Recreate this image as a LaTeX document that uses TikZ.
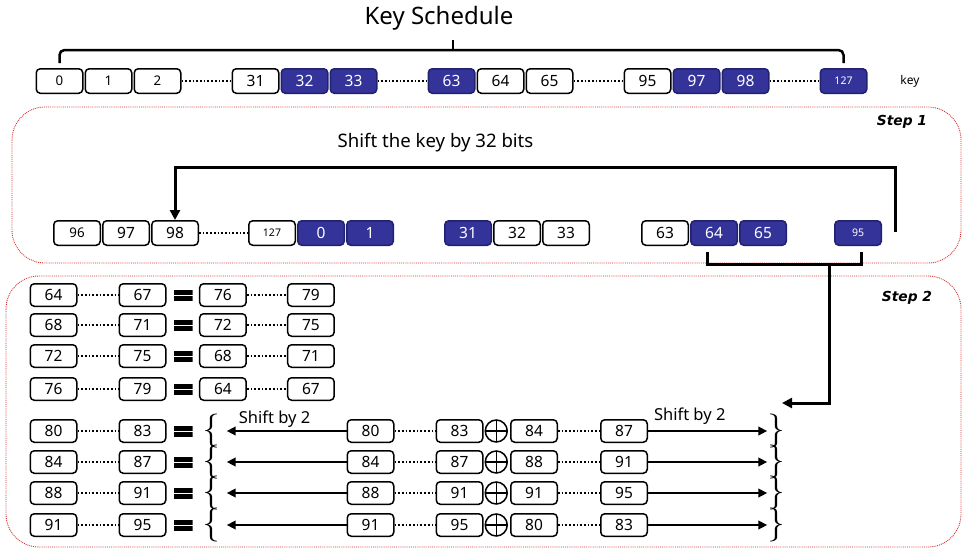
\documentclass[tikz,border=0pt]{standalone}
\usepackage{fontspec}
\setsansfont{Noto Sans}
\newfontfamily\stepfont{DejaVu Sans}
\usepackage{tikz}
\usetikzlibrary{
    positioning,
    arrows.meta
}
\definecolor{KeyBlue}{RGB}{51,51,153}
\definecolor{KeyEdge}{RGB}{33,33,110}
\definecolor{FrameRed}{RGB}{214,48,48}

\begin{document}
\begin{tikzpicture}[
    x=1pt, y=-1pt,
    font=\sffamily,
    bit/.style={rectangle, draw, line width=1.5pt, rounded corners=4pt, minimum width=46.5pt, minimum height=24.5pt, inner sep=0pt, font=\sffamily\fontsize{15.5}{17}\selectfont},
    hot/.style={bit, fill=KeyBlue, draw=KeyEdge, text=white},
    sm/.style={font=\sffamily\fontsize{13.3}{15}\selectfont},
    xs/.style={font=\sffamily\fontsize{10.5}{12}\selectfont},
    cell/.style={bit, minimum height=22.5pt},
    gap/.style={dotted, line width=1.7pt},
    stepframe/.style={draw=FrameRed, densely dotted, line width=0.9pt, rounded corners=33pt},
    thk/.style={line width=3pt},
    brk/.style={line width=2.5pt, rounded corners=5pt},
    arr/.style={line width=2.8pt, -{Triangle[length=9pt, width=8.5pt]}},
    eqs/.style={fill=white, minimum width=19pt, minimum height=11pt, inner sep=0pt,
        path picture={\fill[black] (path picture bounding box.north west) rectangle ([yshift=-5pt]path picture bounding box.north east);
                      \fill[black] (path picture bounding box.south west) rectangle ([yshift=5pt]path picture bounding box.south east);}},
    xorc/.style={circle, draw, line width=1.5pt, minimum size=22pt, inner sep=0pt,
        path picture={\draw[line width=1.5pt] (path picture bounding box.north) -- (path picture bounding box.south)
                      (path picture bounding box.west) -- (path picture bounding box.east);}},
    lbl/.style={font=\sffamily\fontsize{16.5}{18}\selectfont, inner sep=2pt},
    stp/.style={font=\stepfont\bfseries\itshape\fontsize{13.8}{16}\selectfont},
    brc/.style={font=\rmfamily\fontsize{34}{34}\selectfont, inner sep=0pt},
]
\useasboundingbox (0,0) rectangle (962,549);

% frames
\draw[stepframe] (12,107) rectangle (961,263);
\draw[stepframe] (6,276) rectangle (961,547);

% key
\node[font=\sffamily\fontsize{24}{26}\selectfont] (title) at (439,18) {Key Schedule};
\node[bit, sm] (k0) at (59.5,81) {0};
\node[bit, sm, right=1pt of k0] (k1) {1};
\node[bit, sm, right=1pt of k1] (k2) {2};
\node[bit, right=50pt of k2] (k31) {31};
\node[hot, right=1pt of k31] (k32) {32};
\node[hot, right=1pt of k32] (k33) {33};
\node[hot, right=50pt of k33] (k63) {63};
\node[bit, right=1pt of k63] (k64) {64};
\node[bit, right=1pt of k64] (k65) {65};
\node[bit, right=50pt of k65] (k95) {95};
\node[hot, right=1pt of k95] (k97) {97};
\node[hot, right=1pt of k97] (k98) {98};
\node[hot, xs, right=50pt of k98] (k127) {127};
\node[font=\sffamily\fontsize{12}{14}\selectfont] (klbl) at (910,81) {key};

\draw[gap] (k2) -- (k31);
\draw[gap] (k33) -- (k63);
\draw[gap] (k65) -- (k95);
\draw[gap] (k98) -- (k127);

\coordinate (kt) at (453,50);
\draw[brk] ([yshift=5pt]k0.north) -- ++(0,-13) -| ([yshift=5pt]k127.north);
\draw[brk] (kt) -- ++(0,-10);

% step 1
\node[stp] (st1) at (902,122) {Step 1};
\node[font=\sffamily\fontsize{18.6}{21}\selectfont] (shtxt) at (435.5,143) {Shift the key by 32 bits};

\node[bit, sm] (s96) at (77,233) {96};
\node[bit, right=1pt of s96] (s97) {97};
\node[bit, right=1pt of s97] (s98) {98};
\node[bit, xs, right=49pt of s98] (s127) {127};
\node[hot, right=1pt of s127] (s0) {0};
\node[hot, right=1pt of s0] (s1) {1};
\node[hot, right=50pt of s1] (s31) {31};
\node[bit, right=1pt of s31] (s32) {32};
\node[bit, right=1pt of s32] (s33) {33};
\node[bit, right=51pt of s33] (s63) {63};
\node[hot, right=1pt of s63] (s64) {64};
\node[hot, right=1pt of s64] (s65) {65};
\node[hot, xs, right=47pt of s65] (s95) {95};

\draw[gap] (s98) -- (s127);

\coordinate (sa) at (895,232);
\draw[thk, -{Triangle[length=10pt, width=10pt]}] (sa) -- ++(0,-65) -| (s98.north);

\coordinate (bm) at (829,265);
\coordinate (bt) at (782,403);
\draw[thk] ([xshift=-7pt, yshift=-6pt]s64.south) -- ++(0,12) -| ([xshift=3pt, yshift=-6pt]s95.south);
\draw[thk, -{Triangle[length=10pt, width=10pt]}] (bm) |- (bt);

% step 2
\node[stp] (st2) at (907,298) {Step 2};

\node[cell] (a1) at (53.5,295) {64};
\node[cell, right=41pt of a1] (b1) {67};
\node[eqs, right=7pt of b1] (q1) {};
\node[cell, right=6pt of q1] (c1) {76};
\node[cell, right=40pt of c1] (d1) {79};

\node[cell] (a2) at (53.5,325) {68};
\node[cell, right=41pt of a2] (b2) {71};
\node[eqs, right=7pt of b2] (q2) {};
\node[cell, right=6pt of q2] (c2) {72};
\node[cell, right=40pt of c2] (d2) {75};

\node[cell] (a3) at (53.5,356) {72};
\node[cell, right=41pt of a3] (b3) {75};
\node[eqs, right=7pt of b3] (q3) {};
\node[cell, right=6pt of q3] (c3) {68};
\node[cell, right=40pt of c3] (d3) {71};

\node[cell] (a4) at (53.5,389) {76};
\node[cell, right=41pt of a4] (b4) {79};
\node[eqs, right=7pt of b4] (q4) {};
\node[cell, right=6pt of q4] (c4) {64};
\node[cell, right=40pt of c4] (d4) {67};

\draw[gap] (a1) -- (b1); \draw[gap] (c1) -- (d1);
\draw[gap] (a2) -- (b2); \draw[gap] (c2) -- (d2);
\draw[gap] (a3) -- (b3); \draw[gap] (c3) -- (d3);
\draw[gap] (a4) -- (b4); \draw[gap] (c4) -- (d4);

% step 2, shifted rows
\node[cell] (a5) at (53.5,431) {80};
\node[cell, right=41pt of a5] (b5) {83};
\node[eqs, right=7pt of b5] (q5) {};
\node[brc] (l5) at (211,431) {\{};
\node[cell] (e5) at (370.5,431) {80};
\node[cell, right=41pt of e5] (f5) {83};
\node[xorc, right=1pt of f5] (x5) {};
\node[cell, right=2pt of x5] (g5) {84};
\node[cell, right=42pt of g5] (h5) {87};
\node[brc] (r5) at (776,431) {\}};

\node[cell] (a6) at (53.5,462) {84};
\node[cell, right=41pt of a6] (b6) {87};
\node[eqs, right=7pt of b6] (q6) {};
\node[brc] (l6) at (211,462) {\{};
\node[cell] (e6) at (370.5,462) {84};
\node[cell, right=41pt of e6] (f6) {87};
\node[xorc, right=1pt of f6] (x6) {};
\node[cell, right=2pt of x6] (g6) {88};
\node[cell, right=42pt of g6] (h6) {91};
\node[brc] (r6) at (776,462) {\}};

\node[cell] (a7) at (53.5,493) {88};
\node[cell, right=41pt of a7] (b7) {91};
\node[eqs, right=7pt of b7] (q7) {};
\node[brc] (l7) at (211,493) {\{};
\node[cell] (e7) at (370.5,493) {88};
\node[cell, right=41pt of e7] (f7) {91};
\node[xorc, right=1pt of f7] (x7) {};
\node[cell, right=2pt of x7] (g7) {91};
\node[cell, right=42pt of g7] (h7) {95};
\node[brc] (r7) at (776,493) {\}};

\node[cell] (a8) at (53.5,525) {91};
\node[cell, right=41pt of a8] (b8) {95};
\node[eqs, right=7pt of b8] (q8) {};
\node[brc] (l8) at (211,525) {\{};
\node[cell] (e8) at (370.5,525) {91};
\node[cell, right=41pt of e8] (f8) {95};
\node[xorc, right=1pt of f8] (x8) {};
\node[cell, right=2pt of x8] (g8) {80};
\node[cell, right=42pt of g8] (h8) {83};
\node[brc] (r8) at (776,525) {\}};

\draw[gap] (a5) -- (b5); \draw[gap] (e5) -- (f5); \draw[gap] (g5) -- (h5);
\draw[gap] (a6) -- (b6); \draw[gap] (e6) -- (f6); \draw[gap] (g6) -- (h6);
\draw[gap] (a7) -- (b7); \draw[gap] (e7) -- (f7); \draw[gap] (g7) -- (h7);
\draw[gap] (a8) -- (b8); \draw[gap] (e8) -- (f8); \draw[gap] (g8) -- (h8);

% shifts
\draw[arr] (e5) -- node[lbl, above, pos=0.6] {Shift by 2} ([xshift=7pt]l5.east);
\draw[arr] (e6) -- ([xshift=7pt]l6.east);
\draw[arr] (e7) -- ([xshift=7pt]l7.east);
\draw[arr] (e8) -- ([xshift=7pt]l8.east);
\draw[arr] (h5) -- node[lbl, above=3pt, pos=0.35] {Shift by 2} (r5.west);
\draw[arr] (h6) -- (r6.west);
\draw[arr] (h7) -- (r7.west);
\draw[arr] (h8) -- (r8.west);
\end{tikzpicture}
\end{document}
